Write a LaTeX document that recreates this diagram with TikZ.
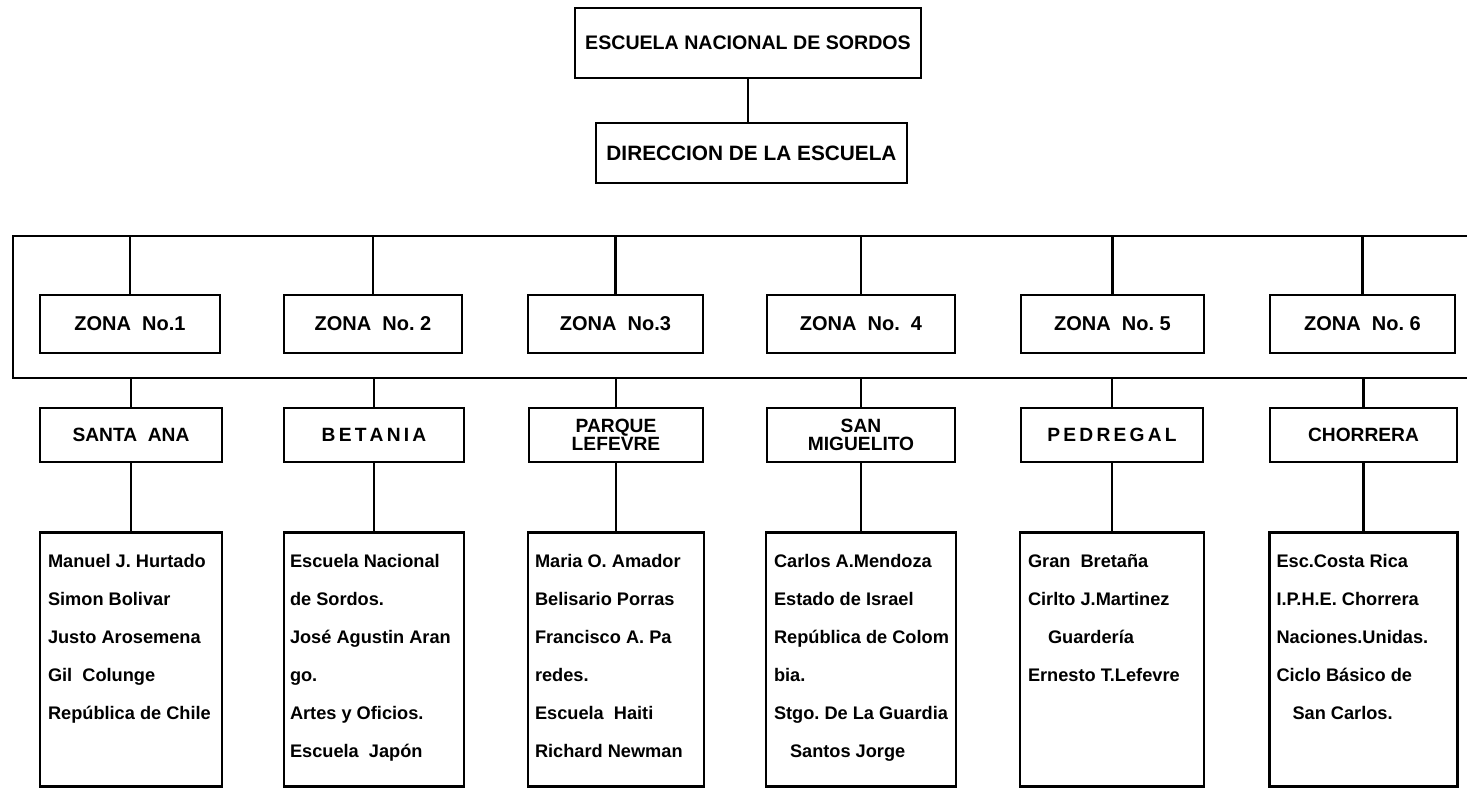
\documentclass[tikz,border=0pt]{standalone}
\usepackage{fontspec}
\setmainfont{Liberation Sans}
\frenchspacing
\usetikzlibrary{positioning}

\begin{document}
\begin{tikzpicture}[x=0.5pt,y=-0.5pt,line width=1.3pt,
        box/.style={draw,anchor=center,inner sep=0pt,font=\bfseries\fontsize{10}{10}\selectfont,align=center},
        zonebox/.style={box,minimum height=29pt},
        namebox/.style={box,minimum height=27pt,font=\bfseries\fontsize{9.6}{9.2}\selectfont},
        listbox/.style={draw,anchor=north,inner sep=0pt,minimum height=127pt},
        listtext/.style={anchor=north west,inner sep=0pt,align=left,font=\bfseries\fontsize{9.1}{19}\selectfont}]
        \useasboundingbox (0,0) rectangle (1467,788);
        %% head of the school
        \node[box,minimum width=173pt,minimum height=35pt,font=\bfseries\fontsize{9.8}{10}\selectfont] (esc) at (748,43) {ESCUELA NACIONAL DE SORDOS};
        \node[box,minimum width=155.5pt,minimum height=30pt,font=\bfseries\fontsize{10.4}{10}\selectfont] (dir) at (751.5,153) {DIRECCION DE LA ESCUELA};
        \draw (esc.south) -- (esc.south |- dir.north);
        %% frame round the zones
        \coordinate (ftl) at (13,236);
        \coordinate (fbl) at (13,378);
        \coordinate (ftr) at (1467,236);
        \coordinate (fbr) at (1467,378);
        \draw (ftr) -- (ftl) -- (fbl) -- (fbr);
        %% zones
        \node[zonebox,minimum width=90pt] (z1) at (130,324) {ZONA\ \ No.1};
        \node[zonebox,minimum width=89pt] (z2) at (373,324) {ZONA\ \ No. 2};
        \node[zonebox,minimum width=87.5pt] (z3) at (615.5,324) {ZONA\ \ No.3};
        \node[zonebox,minimum width=94pt] (z4) at (861,324) {ZONA\ \ No.\ \ 4};
        \node[zonebox,minimum width=91.5pt] (z5) at (1112.5,324) {ZONA\ \ No. 5};
        \node[zonebox,minimum width=92.5pt] (z6) at (1362.5,324) {ZONA\ \ No. 6};
        \draw (z1.north) -- (z1.north |- ftl);
        \draw (z2.north) -- (z2.north |- ftl);
        \draw (z3.north) -- (z3.north |- ftl);
        \draw (z4.north) -- (z4.north |- ftl);
        \draw (z5.north) -- (z5.north |- ftl);
        \draw (z6.north) -- (z6.north |- ftl);
        %% places
        \node[namebox,minimum width=91pt] (n1) at (131,435) {SANTA\ \ ANA};
        \node[namebox,minimum width=90pt] (n2) at (374,435) {B\,E\,T\,A\,N\,I\,A};
        \node[namebox,minimum width=87pt] (n3) at (616,435) {PARQUE\\LEFEVRE};
        \node[namebox,minimum width=94pt] (n4) at (861,435) {SAN\\MIGUELITO};
        \node[namebox,minimum width=91pt] (n5) at (1112,435) {P\,E\,D\,R\,E\,G\,A\,L};
        \node[namebox,minimum width=93.5pt] (n6) at (1363.5,435) {CHORRERA};
        \draw (n1.north) -- (n1.north |- fbl);
        \draw (n2.north) -- (n2.north |- fbl);
        \draw (n3.north) -- (n3.north |- fbl);
        \draw (n4.north) -- (n4.north |- fbl);
        \draw (n5.north) -- (n5.north |- fbl);
        \draw (n6.north) -- (n6.north |- fbl);
        %% schools
        \node[listbox,minimum width=91pt] (l1) at (131,531) {};
        \node[listbox,minimum width=90pt] (l2) at (374,531) {};
        \node[listbox,minimum width=88pt] (l3) at (616,531) {};
        \node[listbox,minimum width=95pt] (l4) at (861,531) {};
        \node[listbox,minimum width=92pt] (l5) at (1112,531) {};
        \node[listbox,minimum width=94pt] (l6) at (1363.5,531) {};
        \draw (n1.south) -- (l1.north);
        \draw (n2.south) -- (l2.north);
        \draw (n3.south) -- (l3.north);
        \draw (n4.south) -- (l4.north);
        \draw (n5.south) -- (l5.north);
        \draw (n6.south) -- (l6.north);
        \node[listtext] (t1) at ([shift={(8,22)}]l1.north west) {Manuel J. Hurtado\\Simon Bolivar\\Justo Arosemena\\Gil\ \ Colunge\\República de Chile};
        \node[listtext] (t2) at ([shift={(6,22)}]l2.north west) {Escuela Nacional\\de Sordos.\\José Agustin Aran\\go.\\Artes y Oficios.\\Escuela\ \ Japón};
        \node[listtext] (t3) at ([shift={(7,22)}]l3.north west) {Maria O. Amador\\Belisario Porras\\Francisco A. Pa\\redes.\\Escuela\ \ Haiti\\Richard Newman};
        \node[listtext] (t4) at ([shift={(8,22)}]l4.north west) {Carlos A.Mendoza\\Estado de Israel\\República de Colom\\bia.\\Stgo. De La Guardia\\\hspace*{8pt}Santos Jorge};
        \node[listtext] (t5) at ([shift={(8,22)}]l5.north west) {Gran\ \ Bretaña\\Cirlto J.Martinez\\\hspace*{10pt}Guardería\\Ernesto T.Lefevre};
        \node[listtext] (t6) at ([shift={(7,22)}]l6.north west) {Esc.Costa Rica\\I.P.H.E. Chorrera\\Naciones.Unidas.\\Ciclo Básico de\\\hspace*{8pt}San Carlos.};
    \end{tikzpicture}
\end{document}
